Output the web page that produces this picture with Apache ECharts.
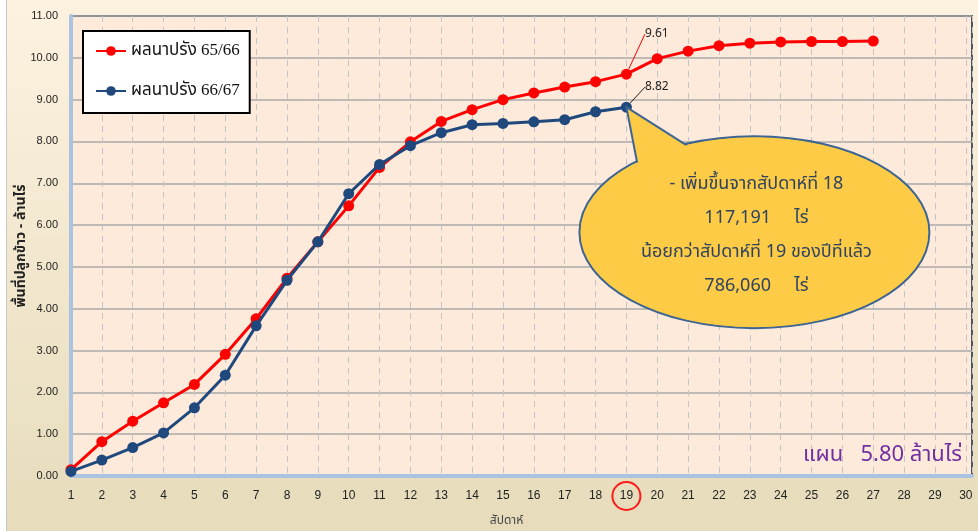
<!DOCTYPE html>
<html>
<head>
<meta charset="utf-8">
<script src="https://cdn.jsdelivr.net/npm/echarts@6/dist/echarts.min.js"></script>
<style>
  html, body { margin: 0; padding: 0; background: #fff; }
  #main { position: absolute; left: 6px; top: 0; width: 972px; height: 531px; border-left: 1px solid #c8c8c8; box-sizing: border-box; }
</style>
</head>
<body>
<div id="main"></div>
<script>
// สัปดาห์ 1-27
const weeks = [1, 2, 3, 4, 5, 6, 7, 8, 9, 10, 11, 12, 13, 14, 15, 16, 17, 18, 19, 20, 21, 22, 23, 24, 25, 26, 27];
// ผลนาปรัง 65/66 (ล้านไร่)
const crop6566 = [0.15, 0.82, 1.31, 1.75, 2.19, 2.91, 3.76, 4.73, 5.60, 6.46, 7.38, 7.99, 8.48, 8.76, 9.00, 9.16, 9.30, 9.43, 9.61, 9.98, 10.16, 10.29, 10.35, 10.38, 10.39, 10.39, 10.40];
// ผลนาปรัง 66/67 (ล้านไร่)
const crop6667 = [0.11, 0.38, 0.68, 1.03, 1.63, 2.41, 3.59, 4.68, 5.60, 6.75, 7.45, 7.90, 8.21, 8.40, 8.43, 8.47, 8.52, 8.71, 8.82];
const seriesNames = ['ผลนาปรัง 65/66', 'ผลนาปรัง 66/67'];
const labelIndex = 18; // สัปดาห์ที่ 19
const calloutLines = ['- เพิ่มขึ้นจากสัปดาห์ที่ 18', '117,191     ไร่', 'น้อยกว่าสัปดาห์ที่ 19 ของปีที่แล้ว', '786,060     ไร่'];
const planText = 'แผน   5.80 ล้านไร่';

const thaiFont = '"Noto Sans Thai", "Noto Sans", "DejaVu Sans", sans-serif';

// จุดข้อมูล ใส่ป้ายตัวเลขเฉพาะสัปดาห์ที่ 19
function pairs(vals, lineColor) {
  return vals.map((v, i) => {
    if (i !== labelIndex) return [weeks[i], v];
    return {
      value: [weeks[i], v],
      label: {
        show: true,
        position: 'right',
        color: '#222',
        fontSize: 12,
        fontFamily: thaiFont,
        formatter: (p) => p.value[1].toFixed(2)
      },
      labelLine: { show: true, lineStyle: { color: lineColor, width: 1 } }
    };
  });
}

let myChart = echarts.init(document.getElementById('main'));

myChart.setOption({
  backgroundColor: new echarts.graphic.LinearGradient(0, 0, 0, 1, [
    { offset: 0, color: '#fdf2e0' },
    { offset: 1, color: '#e6dcbb' }
  ]),
  animation: false,
  grid: {
    left: 64,
    right: 6,
    top: 16,
    bottom: 55,
    outerBoundsMode: 'none',
    containLabel: false,
    show: true,
    backgroundColor: '#fdeadb',
    borderColor: '#4c5766',
    borderWidth: 2
  },
  legend: {
    orient: 'vertical',
    left: 76,
    top: 31,
    data: seriesNames,
    backgroundColor: '#fff',
    borderColor: '#000',
    borderWidth: 2,
    borderRadius: 0,
    padding: [10, 10, 12, 12],
    itemWidth: 30,
    itemHeight: 12,
    itemGap: 20,
    textStyle: { fontSize: 17, lineHeight: 20, color: '#111', fontFamily: '"Liberation Serif", ' + thaiFont }
  },
  xAxis: {
    type: 'value',
    min: 1,
    max: 30.2,
    interval: 1,
    name: 'สัปดาห์',
    nameLocation: 'middle',
    nameGap: 40,
    nameMoveOverlap: false,
    nameTextStyle: { color: '#444', fontSize: 12, fontFamily: thaiFont, padding: [0, 30, 0, 0] },
    axisLine: { show: true, onZero: false, lineStyle: { color: '#a9c3e0', width: 4 } },
    axisTick: { show: false },
    axisLabel: {
      color: '#222',
      fontSize: 12,
      margin: 20,
      verticalAlign: 'middle',
      showMaxLabel: false,
      formatter: (v) => {
        if (v % 1 !== 0) return '';
        return v === 19 ? '{c|' + v + '}' : String(v);
      },
      rich: {
        c: {
          color: '#222',
          fontSize: 12,
          width: 28,
          height: 28,
          align: 'center',
          verticalAlign: 'middle',
          borderColor: '#ff1a1a',
          borderWidth: 2,
          borderRadius: 15
        }
      }
    },
    splitLine: { show: true, lineStyle: { color: '#c4c4c4', type: [6, 5], width: 1 } }
  },
  yAxis: {
    type: 'value',
    min: 0,
    max: 11,
    interval: 1,
    name: 'พื้นที่ปลูกข้าว - ล้านไร่',
    nameLocation: 'middle',
    nameGap: 42,
    nameMoveOverlap: false,
    nameTextStyle: { color: '#222', fontSize: 14, fontWeight: 'bold', fontFamily: thaiFont },
    axisLine: { show: true, lineStyle: { color: '#a9c3e0', width: 4 } },
    axisTick: { show: false },
    axisLabel: { color: '#222', fontSize: 11, margin: 13, formatter: (v) => v.toFixed(2) },
    splitLine: { show: true, lineStyle: { color: '#a8a8a8', width: 1.5 } }
  },
  series: [
    {
      name: seriesNames[0],
      type: 'line',
      data: pairs(crop6566, '#ff0000'),
      symbol: 'circle',
      symbolSize: 11,
      itemStyle: { color: '#ff0000' },
      lineStyle: { color: '#ff0000', width: 3 },
      labelLayout: (p) => (p.dataIndex === labelIndex ? { dx: 8, dy: -40 } : {}),
      z: 3
    },
    {
      name: seriesNames[1],
      type: 'line',
      data: pairs(crop6667, '#222'),
      symbol: 'circle',
      symbolSize: 11,
      itemStyle: { color: '#1f497d' },
      lineStyle: { color: '#1f497d', width: 3 },
      labelLayout: (p) => (p.dataIndex === labelIndex ? { dx: 8, dy: -20 } : {}),
      z: 4
    }
  ]
});

// ป้ายคำอธิบายรูปวงรี ชี้ไปที่จุดสัปดาห์ที่ 19
const tip = myChart.convertToPixel({ gridIndex: 0 }, [weeks[labelIndex], crop6667[labelIndex]]);
const cx = tip[0] + 128, cy = tip[1] + 125, rx = 175, ry = 96;
const pointer = [[tip[0] + 71, tip[1] + 45], [tip[0], tip[1]], [tip[0] + 12, tip[1] + 62]];
const fill = '#fdcb45', edge = '#3d6592';

myChart.setOption({
  graphic: [
    { type: 'ellipse', shape: { cx: cx, cy: cy, rx: rx, ry: ry }, style: { fill: fill, stroke: edge, lineWidth: 2 }, z: 10 },
    { type: 'polygon', shape: { points: pointer }, style: { fill: fill, stroke: edge, lineWidth: 2 }, z: 11 },
    { type: 'ellipse', shape: { cx: cx, cy: cy, rx: rx - 1.5, ry: ry - 1.5 }, style: { fill: fill }, z: 12 },
    {
      type: 'text',
      x: cx + 2,
      y: cy + 4,
      z: 13,
      style: {
        text: calloutLines.join('\n'),
        fill: '#2f4360',
        font: '18px ' + thaiFont,
        lineHeight: 34,
        align: 'center',
        verticalAlign: 'middle'
      }
    },
    {
      type: 'text',
      right: 16,
      top: 446,
      z: 13,
      style: { text: planText, fill: '#7030a0', font: '22px ' + thaiFont }
    }
  ]
});
</script>
</body>
</html>
